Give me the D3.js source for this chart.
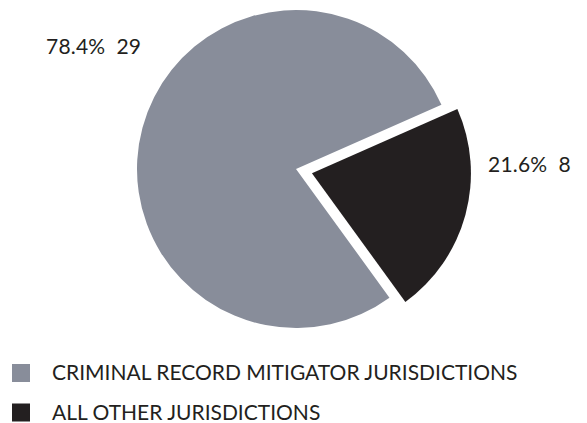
<!DOCTYPE html>
<html>
<head>
<meta charset="utf-8">
<script src="https://cdn.jsdelivr.net/npm/d3@7"></script>
<style>
  html, body { margin: 0; padding: 0; background: #fff; }
  svg { display: block; }
  text { font-family: Lato, "Open Sans", sans-serif; fill: #231f20; }
</style>
</head>
<body>
<svg id="chart" width="587" height="423"></svg>
<script>
// Jurisdiction counts
const categories = ["CRIMINAL RECORD MITIGATOR JURISDICTIONS", "ALL OTHER JURISDICTIONS"];
const counts = [29, 8];
const percentLabels = ["78.4%", "21.6%"];
const colors = ["#888d9a", "#231f20"];

const svg = d3.select("#chart");
const cx = 296, cy = 169, radius = 159;
const explode = [0, 16.5];

const pie = d3.pie()
  .sort(null)
  .startAngle(144 * Math.PI / 180)
  .endAngle(144 * Math.PI / 180 + 2 * Math.PI);
const arcs = pie(counts);
const arc = d3.arc().innerRadius(0).outerRadius(radius);

const g = svg.append("g").attr("transform", `translate(${cx},${cy})`);

g.selectAll("path.slice")
  .data(arcs)
  .join("path")
  .attr("class", "slice")
  .attr("fill", (d, i) => colors[i])
  .attr("transform", (d, i) => {
    const mid = (d.startAngle + d.endAngle) / 2;
    return `translate(${Math.sin(mid) * explode[i]},${-Math.cos(mid) * explode[i]})`;
  })
  .attr("d", arc);

// Value labels beside each slice
const labelPos = [[46 - cx, 54 - cy], [488 - cx, 172 - cy]];
g.selectAll("text.value")
  .data(arcs)
  .join("text")
  .attr("class", "value")
  .attr("x", (d, i) => labelPos[i][0])
  .attr("y", (d, i) => labelPos[i][1])
  .attr("font-size", 21)
  .attr("letter-spacing", 0.2)
  .attr("xml:space", "preserve")
  .text((d, i) => `${percentLabels[i]}  ${d.data}`);

// Legend
const legend = svg.append("g").attr("transform", "translate(12,364)");
const rows = legend.selectAll("g")
  .data(categories)
  .join("g")
  .attr("transform", (d, i) => `translate(0,${i * 39.5})`);
rows.append("rect")
  .attr("width", 18).attr("height", 18)
  .attr("fill", (d, i) => colors[i]);
rows.append("text")
  .attr("x", 40).attr("y", 16)
  .attr("font-size", 21)
  .text(d => d);
</script>
</body>
</html>
